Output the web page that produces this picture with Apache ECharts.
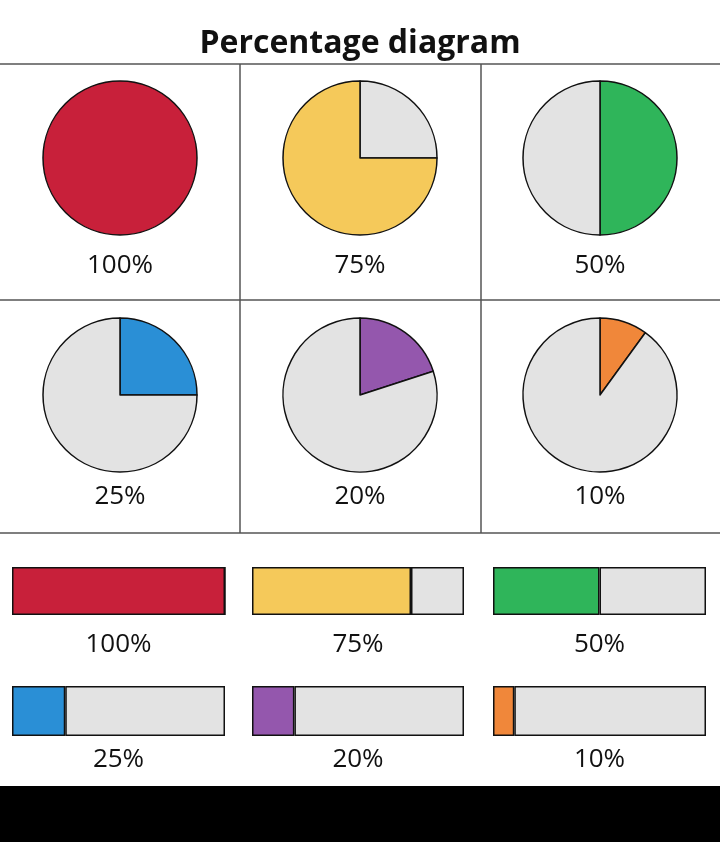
<!doctype html>
<html>
<head>
<script src="https://cdn.jsdelivr.net/npm/echarts@6/dist/echarts.min.js"></script>
<style>html,body{margin:0;background:#fff}#c{width:720px;height:842px}</style>
</head>
<body>
<div id="c"></div>
<script>
var percents = [100, 75, 50, 25, 20, 10];
var colors = ['#c8203a', '#f5c95a', '#2fb55a', '#2a8fd6', '#9457ad', '#f0873a'];
var labels = ['100%', '75%', '50%', '25%', '20%', '10%'];
var grey = '#e3e3e3';

var chart = echarts.init(document.getElementById('c'));
var cols = [120, 360, 600];
var pieRows = [158, 395];
var pieLabelY = [266, 497];
var barX = [[12, 225], [252, 464], [493, 706]];
var barRows = [[567, 615], [686, 736]];
var barLabelY = [645, 760];

var series = [], grids = [], xAxes = [], yAxes = [];
var graphic = [
  {type: 'text', left: 'center', top: 14, style: {text: 'Percentage diagram', font: 'bold 32px "Open Sans", sans-serif', fill: '#111'}},
  {type: 'line', shape: {x1: 0, y1: 64, x2: 720, y2: 64}, style: {stroke: '#555', lineWidth: 1.5}},
  {type: 'line', shape: {x1: 0, y1: 300, x2: 720, y2: 300}, style: {stroke: '#555', lineWidth: 1.5}},
  {type: 'line', shape: {x1: 0, y1: 533, x2: 720, y2: 533}, style: {stroke: '#555', lineWidth: 1.5}},
  {type: 'line', shape: {x1: 240, y1: 64, x2: 240, y2: 533}, style: {stroke: '#555', lineWidth: 1.5}},
  {type: 'line', shape: {x1: 481, y1: 64, x2: 481, y2: 533}, style: {stroke: '#555', lineWidth: 1.5}},
  {type: 'rect', shape: {x: 0, y: 786, width: 720, height: 56}, style: {fill: '#000'}}
];
var lblFont = '26px "Open Sans", sans-serif';

percents.forEach(function (p, i) {
  var c = i % 3, r = Math.floor(i / 3);
  var data = [{value: p, itemStyle: {color: colors[i]}}];
  if (p < 100) data.push({value: 100 - p, itemStyle: {color: grey}});
  if (p === 75) data.reverse();
  series.push({
    type: 'pie', center: [cols[c], pieRows[r]], radius: 77, startAngle: 90, clockwise: true,
    silent: true, label: {show: false}, labelLine: {show: false},
    itemStyle: {borderColor: '#111', borderWidth: 1.5}, data: data
  });
  graphic.push({type: 'text', x: cols[c], y: pieLabelY[r], style: {text: labels[i], font: lblFont, fill: '#111', align: 'center', verticalAlign: 'middle'}});

  grids.push({left: barX[c][0], width: barX[c][1] - barX[c][0], top: barRows[r][0], height: barRows[r][1] - barRows[r][0]});
  xAxes.push({type: 'value', gridIndex: i, min: 0, max: 100, show: false});
  yAxes.push({type: 'category', gridIndex: i, data: ['a'], show: false});
  series.push({type: 'bar', xAxisIndex: i, yAxisIndex: i, stack: 's' + i, barWidth: '100%', data: [p],
    itemStyle: {color: colors[i], borderColor: '#111', borderWidth: 1.5}, silent: true});
  series.push({type: 'bar', xAxisIndex: i, yAxisIndex: i, stack: 's' + i, barWidth: '100%', data: [100 - p],
    itemStyle: {color: grey, borderColor: '#111', borderWidth: 1.5}, silent: true});
  graphic.push({type: 'text', x: (barX[c][0] + barX[c][1]) / 2, y: barLabelY[r], style: {text: labels[i], font: lblFont, fill: '#111', align: 'center', verticalAlign: 'middle'}});
});

chart.setOption({animation: false, grid: grids, xAxis: xAxes, yAxis: yAxes, series: series, graphic: graphic});
</script>
</body>
</html>
